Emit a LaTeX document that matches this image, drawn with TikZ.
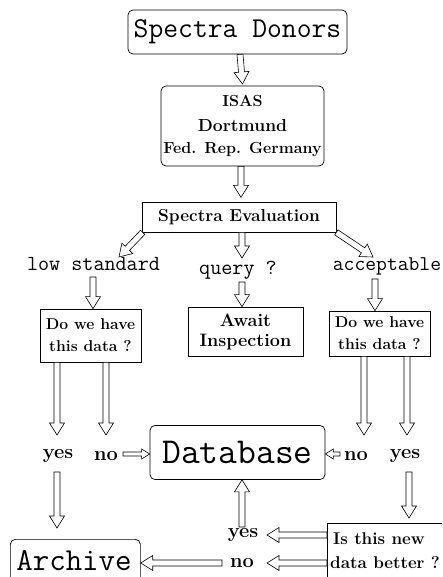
\documentclass[tikz,border=0pt]{standalone}
\usetikzlibrary{calc}
\tikzset{
  rbox/.style={draw, line width=0.7pt, rounded corners=5pt, inner sep=0pt, align=center},
  sbox/.style={draw, line width=0.7pt, inner sep=0pt, align=center},
  lbl/.style={inner sep=0pt, align=center},
  hollow/.style={draw, line width=0.6pt, fill=white, line join=miter},
}
% hollow arrow: [shaft half width, head half width, head length]{from}{to}
\newcommand\harr[3][3,7.5,12]{%
  \path (#2) coordinate (hA) (#3) coordinate (hB);
  \harrx{#1}}
\def\harrx#1{\harry#1\relax}
\def\harry#1,#2,#3\relax{%
  \path ($(hB)!#3pt!(hA)$) coordinate (hC);
  \draw[hollow] ($(hA)!#1pt!90:(hB)$) -- ($(hC)!#1pt!-90:(hA)$) -- ($(hC)!#2pt!-90:(hA)$)
     -- (hB) -- ($(hC)!#2pt!90:(hA)$) -- ($(hC)!#1pt!90:(hA)$) -- ($(hA)!#1pt!-90:(hB)$) -- cycle;}
\begin{document}
\begin{tikzpicture}[x=1pt,y=-1pt]
\path[use as bounding box, clip] (0,0) rectangle (442,577);
\def\bigtt#1{\fontsize{#1}{#1}\selectfont\ttfamily}
\def\bld#1#2{\fontsize{#1}{#2}\selectfont\rmfamily\bfseries}

\node[rbox, minimum width=219pt, minimum height=44pt] (donors) at (237.5,32) {\bigtt{28.8}Spectra Donors};
\node[rbox, minimum width=163pt, minimum height=80pt, font=\bld{16}{22}] (isas) at (242.5,126)
  {ISAS\\[3pt]{\fontsize{17.5}{22}\selectfont Dortmund}\\Fed. Rep. Germany};
\node[sbox, minimum width=194pt, minimum height=30pt, font=\bld{17.3}{20}] (eval) at (239,217) {Spectra Evaluation};

\node[lbl] (low) at (93.5,264) {\bigtt{21.5}low standard};
\node[lbl] (query) at (238,270) {\bigtt{21.5}query ?};
\node[lbl] (acc) at (387,266) {\bigtt{21}acceptable};

\node[sbox, minimum width=101pt, minimum height=53pt, font=\bld{15.7}{22}] (lbox) at (90.5,335.5)
  {Do we have\\this data ?};
\node[sbox, minimum width=115pt, minimum height=49pt, font=\bld{18}{20}] (await) at (245.5,331.5)
  {Await\\Inspection};
\node[sbox, minimum width=101pt, minimum height=45pt, font=\bld{15.7}{22}] (rbx) at (379.5,333.5)
  {Do we have\\this data ?};

\node[lbl, font=\bld{20}{20}] (yesL) at (58,456) {yes};
\node[lbl, font=\bld{20}{20}] (noL) at (106,456) {no};
\node[rbox, minimum width=175pt, minimum height=54pt] (db) at (237.5,452.5) {\bigtt{36.5}Database};
\node[lbl, font=\bld{20}{20}] (noR) at (356,456) {no};
\node[lbl, font=\bld{20}{20}] (yesR) at (405,456) {yes};

\node[rbox, minimum width=130pt, minimum height=52pt, anchor=north west] (arch) at (10,539) {};
\node[lbl] (archt) at (74,561) {\bigtt{32}Archive};
\node[sbox, minimum width=130pt, minimum height=70pt, anchor=north west] (newb) at (327,523) {};
\node[lbl, anchor=west, font=\bld{17}{20}] (nb1) at (333,539) {Is this new};
\node[lbl, anchor=west, font=\bld{17}{20}] (nb2) at (330,563) {data better ?};

\node[lbl, font=\bld{20}{20}] (yesB) at (243,535) {yes};
\node[lbl, font=\bld{20}{20}] (noB) at (242,563) {no};

% arrows
\harr{$(donors.south)+(2.5,0)$}{isas.north |- 0,84}
\harr{$(isas.south)+(-1.5,0)$}{$(isas.south)+(-1.5,31)$}
\harr{$(eval.south west)+(1,0)$}{119,257}
\harr{eval.south -| 242,0}{242,258}
\harr{$(eval.south east)+(0,0)$}{373,257}
\harr{93,277}{lbox.north -| 93,0}
\harr{242,282}{await.north -| 242,0}
\harr{375,279}{rbx.north -| 375,0}
\harr{lbox.south -| 57,0}{57,435}
\harr{lbox.south -| 106,0}{106,435}
\harr{rbx.south -| 364,0}{364,435}
\harr{rbx.south -| 407,0}{407,435}
\harr[2,5,8]{123,454}{db.west |- 0,454}
\harr[2,5,8]{340,454}{db.east |- 0,454}
\harr{57,472}{57,528}
\harr{409,472}{409,518}
\harr{newb.west |- 0,535}{267,535}
\harr{newb.west |- 0,563}{267,563}
\harr{242,527}{db.south -| 242,0}
\harr{222,563}{arch.east |- 0,563}
\end{tikzpicture}
\end{document}
